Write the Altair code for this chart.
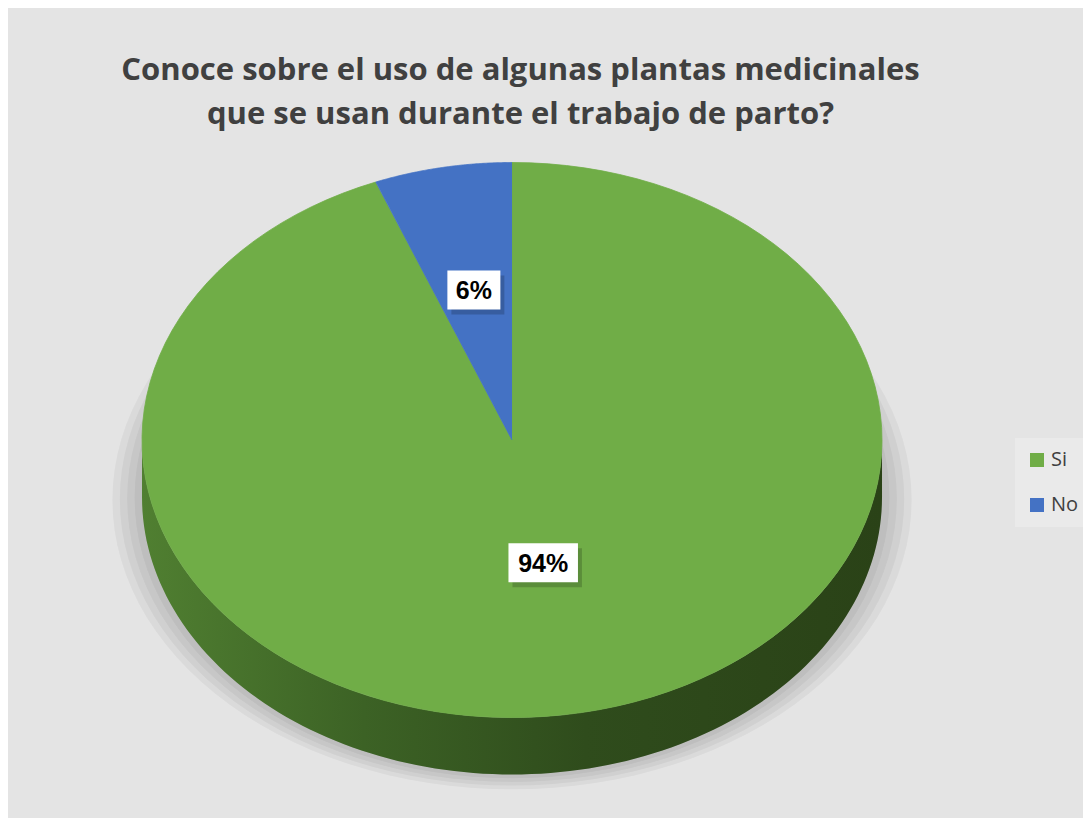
import altair as alt
import pandas as pd

# ---- data ----
categories = ["Si", "No"]
values = [94, 6]
colors = ["#70ad47", "#4472c4"]
title_lines = ["Conoce sobre el uso de algunas plantas medicinales",
               "que se usan durante el trabajo de parto?"]

df = pd.DataFrame({"category": categories, "value": values})

# ---- geometry / style constants ----
TILT = 0.75      # vertical squash of the tilted pie
DEPTH = 0.154    # thickness of the 3D side
N = 120          # points along each arc
W, H = 1075, 660
PAD_TOP = 150

xscale = alt.Scale(domain=[-1.3622, 1.5432], nice=False, zero=False)
yscale = alt.Scale(domain=[-1.0216, 0.7622], nice=False, zero=False)
X = alt.X("px:Q", scale=xscale, axis=None)
Y = alt.Y("py:Q", scale=yscale, axis=None)

base = (
    alt.Chart(df)
    .transform_joinaggregate(total="sum(value)")
    .transform_window(cum="sum(value)", frame=[None, 0])
    .transform_calculate(
        a0="2*PI*(datum.cum - datum.value)/datum.total",
        a1="2*PI*datum.cum/datum.total",
    )
)

# soft shadow under the pie
shadow = (
    alt.Chart(df)
    .transform_aggregate(total="sum(value)")
    .transform_calculate(s="sequence(0, 5)")
    .transform_flatten(["s"])
    .transform_calculate(k=f"sequence(0, {N + 1})")
    .transform_flatten(["k"])
    .transform_calculate(
        ang=f"2*PI*datum.k/{N}",
        px="(1.0 + 0.02*datum.s) * sin(datum.ang)",
        py=f"(0.75 + 0.008*datum.s) * cos(datum.ang) - {DEPTH} - 0.002*datum.s",
    )
    .mark_line(fill="#000000", fillOpacity=0.045, strokeOpacity=0)
    .encode(x=X, y=Y, detail="s:N", order=alt.Order("k:Q"))
)

side_gradient = alt.LinearGradient(
    gradient="linear", x1=0, x2=1, y1=0, y2=0,
    stops=[
        alt.GradientStop(offset=0, color="#507f31"),
        alt.GradientStop(offset=0.3, color="#3c6225"),
        alt.GradientStop(offset=0.6, color="#2f4c1c"),
        alt.GradientStop(offset=1, color="#2a4217"),
    ],
)

side = (
    base.transform_calculate(b0="max(datum.a0, PI/2)", b1="min(datum.a1, 3*PI/2)")
    .transform_filter("datum.b1 > datum.b0")
    .transform_calculate(k=f"sequence(0, {2 * N + 2})")
    .transform_flatten(["k"])
    .transform_calculate(
        t=f"datum.k <= {N} ? datum.k/{N} : ({2 * N + 1} - datum.k)/{N}",
        ang="datum.b0 + (datum.b1 - datum.b0)*datum.t",
        px="sin(datum.ang)",
        py=f"{TILT}*cos(datum.ang) - (datum.k <= {N} ? 0 : {DEPTH})",
    )
    .mark_line(fill=side_gradient, strokeOpacity=0)
    .encode(x=X, y=Y, detail="category:N", order=alt.Order("k:Q"))
)

color_scale = alt.Scale(domain=categories, range=colors)

top = (
    base.transform_calculate(k=f"sequence(-1, {N + 1})")
    .transform_flatten(["k"])
    .transform_calculate(
        ang=f"datum.a0 + (datum.a1 - datum.a0)*max(datum.k, 0)/{N}",
        px="datum.k < 0 ? 0 : sin(datum.ang)",
        py=f"datum.k < 0 ? 0 : {TILT}*cos(datum.ang)",
    )
    .mark_line(strokeWidth=0.8)
    .encode(
        x=X, y=Y,
        fill=alt.Fill(
            "category:N", scale=color_scale,
            legend=alt.Legend(
                title=None, orient="none", legendX=1007, legendY=280,
                symbolType="square", symbolSize=196, symbolStrokeWidth=0,
                labelFontSize=20, labelColor="#404040", labelFont="Open Sans",
                rowPadding=25, labelOffset=4, fillColor="#eaeaea", padding=12,
            ),
        ),
        stroke=alt.Stroke("category:N", scale=color_scale, legend=None),
        order=alt.Order("k:Q"),
    )
)

labels = base.transform_calculate(
    mid="(datum.a0 + datum.a1)/2",
    r="datum.value/datum.total < 0.1 ? 0.55 : 0.45",
    px="datum.r*sin(datum.mid)",
    py=f"{TILT}*datum.r*cos(datum.mid)",
    label="format(datum.value/datum.total, '.0%')",
    hw="(20 + 16.5*length(datum.label))/100",
    box="'M' + (-datum.hw) + ',-0.39L' + datum.hw + ',-0.39L' + datum.hw + ',0.39L' + (-datum.hw) + ',0.39Z'",
)

box_shadow = labels.mark_point(
    filled=True, size=10000, color="#000000", opacity=0.18, xOffset=4, yOffset=5
).encode(x=X, y=Y, shape=alt.Shape("box:N", scale=None))

box = labels.mark_point(
    filled=True, size=10000, color="#ffffff", opacity=1
).encode(x=X, y=Y, shape=alt.Shape("box:N", scale=None))

text = labels.mark_text(
    font="Liberation Sans", fontWeight="bold", fontSize=25, color="#000000",
    baseline="middle", dy=1,
).encode(x=X, y=Y, text="label:N")

chart = (
    alt.layer(shadow, side, top, box_shadow, box, text)
    .properties(
        width=W, height=H,
        padding={"top": PAD_TOP, "left": 0, "right": 0, "bottom": 0},
        autosize=alt.AutoSizeParams(type="none"),
        background="#e4e4e4",
        title=alt.Title(
            text=title_lines, anchor="middle", dx=-25, offset=27,
            font="Open Sans", fontSize=31, fontWeight="bold", color="#404040",
            lineHeight=44,
        ),
    )
    .configure_view(strokeWidth=0)
)

chart.save("out.html", embed_options={"renderer": "svg", "actions": False})
